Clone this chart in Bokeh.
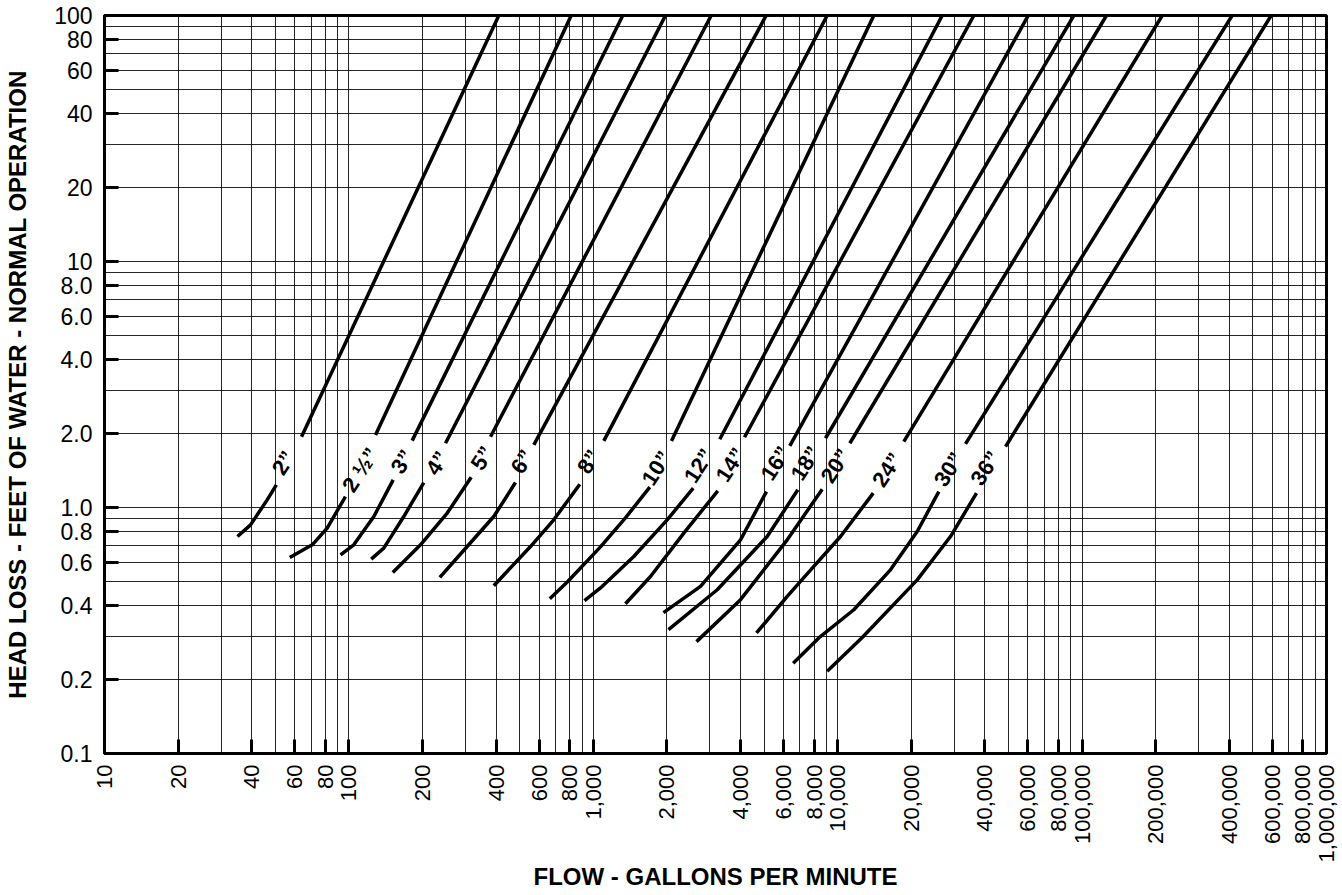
import math
from bokeh.plotting import figure
from bokeh.models import Range1d, FixedTicker, NumeralTickFormatter
from bokeh.core.properties import value
from bokeh.embed import file_html
from bokeh.resources import INLINE

# ---- data ----
sizes = ["2\u201d", "2 \u00bd\u201d", "3\u201d", "4\u201d", "5\u201d", "6\u201d", "8\u201d", "10\u201d",
         "12\u201d", "14\u201d", "16\u201d", "18\u201d", "20\u201d", "24\u201d", "30\u201d", "36\u201d"]

# lower (curved) part of each pipe curve: flow (gpm) and head loss (ft)
lower_x = [
    [35.0, 39.6, 46.3, 50.5],
    [57.3, 70.8, 81.5, 96.8],
    [92.4, 104.7, 126.5, 151.8],
    [123.4, 138.9, 167.7, 202.5],
    [151.2, 196.3, 252.5, 316.5],
    [235.5, 304.8, 391.6, 480.4],
    [391.6, 553.4, 689.0, 880.6],
    [663.7, 784.4, 1070, 1354, 1703],
    [920.4, 1070, 1464, 2006, 2564],
    [1354, 1714, 2346, 3232],
    [1937, 2746, 4003, 5112],
    [2031, 3214, 5145, 6868],
    [2644, 4003, 6216, 8643],
    [4654, 6216, 7983, 10270, 13980],
    [6575, 8368, 11640, 16440, 21150, 25930],
    [9057, 12600, 21150, 28940, 36980],
]
lower_y = [
    [0.762, 0.850, 1.074, 1.236],
    [0.626, 0.705, 0.825, 1.108],
    [0.642, 0.705, 0.919, 1.295],
    [0.617, 0.684, 0.919, 1.263],
    [0.544, 0.705, 0.949, 1.328],
    [0.520, 0.694, 0.919, 1.263],
    [0.481, 0.694, 0.891, 1.244],
    [0.426, 0.499, 0.692, 0.908, 1.210],
    [0.418, 0.471, 0.632, 0.891, 1.198],
    [0.406, 0.524, 0.787, 1.169],
    [0.374, 0.478, 0.739, 1.161],
    [0.319, 0.463, 0.762, 1.180],
    [0.285, 0.422, 0.739, 1.187],
    [0.309, 0.435, 0.576, 0.762, 1.144],
    [0.233, 0.295, 0.384, 0.558, 0.799, 1.161],
    [0.216, 0.296, 0.508, 0.762, 1.144],
]

# upper (straight) part of each pipe curve
upper_x = [
    [64.0, 410.6], [128.5, 812], [181.5, 1320], [248.5, 1974],
    [379.7, 3037], [571, 5097], [1104, 9057], [2089, 14050],
    [3293, 26770], [4156, 36060], [6368, 60190], [8913, 92480],
    [11210, 125800], [18640, 212700], [33340, 411100], [48610, 593800],
]
upper_y = [
    [1.94, 100], [1.97, 100], [1.87, 100], [1.825, 100],
    [1.94, 100], [1.797, 100], [1.865, 100], [1.865, 100],
    [1.895, 100], [1.93, 100], [1.780, 100], [1.912, 100],
    [1.825, 100], [1.852, 100], [1.813, 100], [1.769, 100],
]

# label positions
label_x = [54.0, 111.6, 165.2, 229.8, 351.1, 511.9, 958.5, 1814,
           2702, 3643, 5566, 7384, 9795, 15940, 28490, 40240]
label_y = [1.518, 1.422, 1.537, 1.514, 1.586, 1.537, 1.537, 1.445,
           1.476, 1.490, 1.514, 1.514, 1.476, 1.422, 1.43, 1.445]

xtick_vals = [10, 20, 40, 60, 80, 100, 200, 400, 600, 800, 1000, 2000, 4000, 6000, 8000,
              10000, 20000, 40000, 60000, 80000, 100000, 200000, 400000, 600000, 800000, 1000000]
ytick_vals = [0.1, 0.2, 0.4, 0.6, 0.8, 1, 2, 4, 6, 8, 10, 20, 40, 60, 80, 100]
ytick_labels = ["0.1", "0.2", "0.4", "0.6", "0.8", "1.0", "2.0", "4.0", "6.0", "8.0",
                "10", "20", "40", "60", "80", "100"]

grid_x = [m * 10 ** k for k in range(1, 6) for m in range(1, 10)] + [1000000]
grid_y = [round(m * 10.0 ** k, 6) for k in range(-1, 2) for m in range(1, 10)] + [100]

FONT = "Liberation Sans"

p = figure(width=1342, height=893, x_axis_type="log", y_axis_type="log",
           x_range=Range1d(10, 1000000), y_range=Range1d(0.1, 100),
           output_backend="svg", toolbar_location=None,
           min_border_left=104, min_border_right=16, min_border_top=15, min_border_bottom=139)

p.background_fill_color = "white"
p.border_fill_color = "white"
p.outline_line_color = "black"
p.outline_line_width = 3

# grids
p.xgrid.ticker = FixedTicker(ticks=grid_x)
p.ygrid.ticker = FixedTicker(ticks=grid_y)
for g in (p.xgrid[0], p.ygrid[0]):
    g.grid_line_color = "black"
    g.grid_line_width = 1
    g.grid_line_alpha = 0.85

# axes
p.xaxis.ticker = FixedTicker(ticks=xtick_vals)
p.xaxis.formatter = NumeralTickFormatter(format="0,0")
p.xaxis.major_label_orientation = math.pi / 2
p.yaxis.ticker = FixedTicker(ticks=ytick_vals)
p.yaxis.major_label_overrides = {v: s for v, s in zip(ytick_vals, ytick_labels)}

for ax in (p.xaxis[0], p.yaxis[0]):
    ax.major_tick_in = 14
    ax.major_tick_out = 0
    ax.major_tick_line_width = 3
    ax.major_tick_line_color = "black"
    ax.minor_tick_line_color = None
    ax.axis_line_width = 3
    ax.axis_line_color = "black"
    ax.major_label_text_font = FONT
    ax.major_label_text_color = "black"
    ax.axis_label_text_font = FONT
    ax.axis_label_text_font_style = "bold"
    ax.axis_label_text_font_size = "24px"
    ax.axis_label_text_color = "black"

p.xaxis.major_label_text_font_size = "22px"
p.yaxis.major_label_text_font_size = "23px"
p.xaxis.major_label_standoff = 11
p.yaxis.major_label_standoff = 12
p.xaxis.axis_label = "FLOW - GALLONS PER MINUTE"
p.yaxis.axis_label = "HEAD LOSS - FEET OF WATER - NORMAL OPERATION"
p.xaxis.axis_label_standoff = -2
p.yaxis.axis_label_standoff = 20

# curves
p.multi_line(xs=lower_x + upper_x, ys=lower_y + upper_y, line_color="black",
             line_width=3.5, line_cap="butt", line_join="round")

# pipe size labels
p.text(x=label_x, y=label_y, text=sizes, angle=57, angle_units="deg",
       text_font=value(FONT), text_font_style="bold", text_font_size="22px",
       text_align="center", text_baseline="middle", text_color="black")

open("out.html", "w").write(file_html(p, INLINE))
